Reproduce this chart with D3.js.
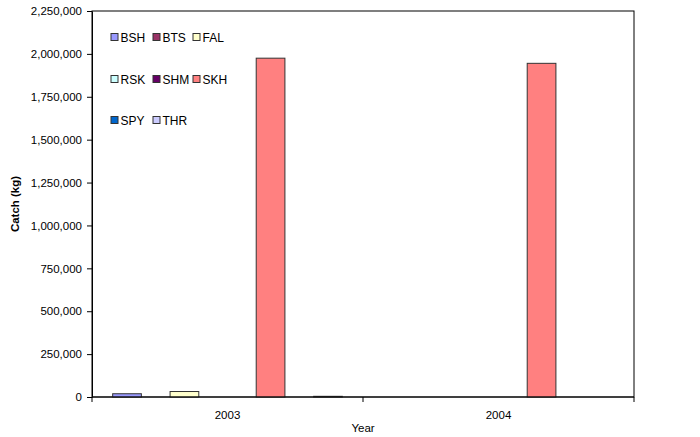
<!DOCTYPE html>
<html>
<head>
<meta charset="utf-8">
<script src="https://cdn.jsdelivr.net/npm/d3@7"></script>
<style>
  html, body { margin: 0; padding: 0; background: #fff; }
  svg { display: block; font-family: "Liberation Sans", Arial, sans-serif; }
</style>
</head>
<body>
<svg id="chart" width="700" height="437"></svg>
<script>
// Catch by species, per year
const years = ["2003", "2004"];
const species = ["BSH", "BTS", "FAL", "RSK", "SHM", "SKH", "SPY", "THR"];
const colors = ["#9999FF", "#993366", "#FFFFCC", "#CCFFFF", "#660066", "#FF8080", "#0066CC", "#CCCCFF"];
const catch2003 = [19000, 0, 32000, 0, 0, 1975000, 0, 4000];
const catch2004 = [0, 0, 0, 0, 0, 1945000, 0, 0];
const yTicks = [0, 250000, 500000, 750000, 1000000, 1250000, 1500000, 1750000, 2000000, 2250000];

const values = { "2003": catch2003, "2004": catch2004 };

const svg = d3.select("#chart");
const plot = { left: 92, top: 11, right: 634, bottom: 397 };

const x0 = d3.scaleBand().domain(years).range([plot.left, plot.right]).padding(0);
const x1 = d3.scaleBand().domain(species).range([0, x0.bandwidth()])
  .paddingInner(0).paddingOuter(0.72);
const y = d3.scaleLinear().domain([0, 2250000]).range([plot.bottom, plot.top]);
const color = d3.scaleOrdinal().domain(species).range(colors);

// plot frame
svg.append("rect")
  .attr("x", plot.left).attr("y", plot.top)
  .attr("width", plot.right - plot.left).attr("height", plot.bottom - plot.top)
  .attr("fill", "#fff").attr("stroke", "#000").attr("stroke-width", 1);

// bars
const groups = svg.append("g").selectAll("g")
  .data(years).join("g")
  .attr("transform", d => `translate(${x0(d)},0)`);

groups.selectAll("rect")
  .data(yr => species.map((s, i) => ({ s, v: values[yr][i] })).filter(d => d.v > 0))
  .join("rect")
  .attr("x", d => x1(d.s))
  .attr("width", x1.bandwidth())
  .attr("y", d => y(d.v))
  .attr("height", d => y(0) - y(d.v))
  .attr("fill", d => color(d.s))
  .attr("stroke", "#333")
  .attr("stroke-width", 1);

// y axis
const yAxis = d3.axisLeft(y).tickValues(yTicks).tickSize(5).tickSizeOuter(0)
  .tickFormat(d3.format(","));
const gy = svg.append("g").attr("transform", `translate(${plot.left},0)`).call(yAxis);
gy.select(".domain").attr("stroke", "#000");
gy.selectAll(".tick line").attr("stroke", "#000");
gy.selectAll(".tick text").attr("font-size", 11.5).attr("fill", "#000")
  .attr("font-family", "Liberation Sans, Arial, sans-serif").attr("x", -10);

// x axis with ticks at category boundaries
const gx = svg.append("g").attr("transform", `translate(0,${plot.bottom})`);
gx.append("line").attr("x1", plot.left).attr("x2", plot.right)
  .attr("stroke", "#000");
const bounds = [x0(years[0]), x0(years[1]), x0(years[1]) + x0.bandwidth()];
gx.selectAll("line.tk").data(bounds).join("line").attr("class", "tk")
  .attr("x1", d => d).attr("x2", d => d).attr("y1", 0).attr("y2", 5)
  .attr("stroke", "#000");
gx.selectAll("text").data(years).join("text")
  .attr("x", d => x0(d) + x0.bandwidth() / 2)
  .attr("y", 22)
  .attr("text-anchor", "middle")
  .attr("font-size", 11.5)
  .text(d => d);

// axis titles
svg.append("text")
  .attr("x", (plot.left + plot.right) / 2).attr("y", 432)
  .attr("text-anchor", "middle").attr("font-size", 11.5)
  .text("Year");
svg.append("text")
  .attr("transform", `translate(19,${(plot.top + plot.bottom) / 2}) rotate(-90)`)
  .attr("text-anchor", "middle").attr("font-size", 11.5).attr("font-weight", "bold")
  .text("Catch (kg)");

// legend, three per row
const legend = svg.append("g");
const colX = [111, 153, 193];
const rowY = [37, 79, 120];
species.forEach((s, i) => {
  const cx = colX[i % 3], cy = rowY[Math.floor(i / 3)];
  legend.append("rect")
    .attr("x", cx).attr("y", cy - 3.5).attr("width", 7).attr("height", 7)
    .attr("fill", color(s)).attr("stroke", "#333").attr("stroke-width", 1);
  legend.append("text")
    .attr("x", cx + 9.5).attr("y", cy + 4.5)
    .attr("font-size", 12)
    .text(s);
});
</script>
</body>
</html>
